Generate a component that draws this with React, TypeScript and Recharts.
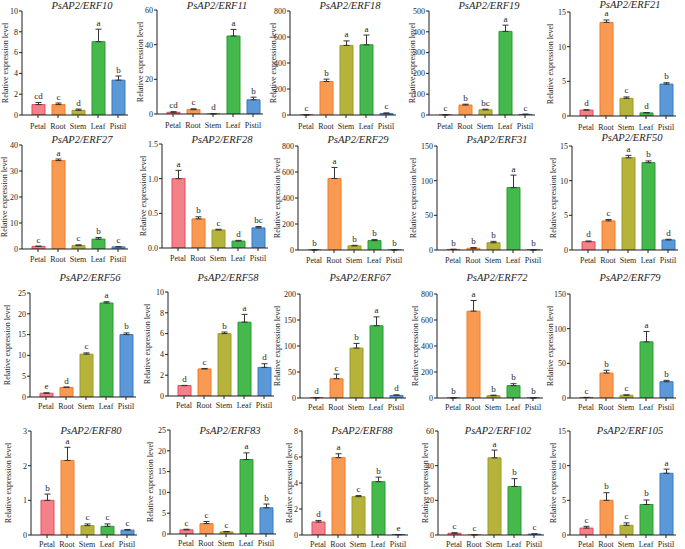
import React from 'react';
import { BarChart, Bar, XAxis, YAxis, ErrorBar, Cell, LabelList, Label } from 'recharts';

const categories = ['Petal', 'Root', 'Stem', 'Leaf', 'Pistil'];

const erf10 = [1.0, 1.0, 0.45, 7.05, 3.35];
const erf10Err = [0.2, 0.15, 0.12, 1.2, 0.4];
const erf10Sig = ['cd', 'c', 'd', 'a', 'b'];
const erf10Ticks = [0, 2, 4, 6, 8, 10];

const erf11 = [1.0, 2.5, 0.1, 45, 8.2];
const erf11Err = [0.3, 0.5, 0, 3.8, 1.5];
const erf11Sig = ['cd', 'c', 'd', 'a', 'b'];
const erf11Ticks = [0, 20, 40, 60];

const erf18 = [1, 258, 535, 540, 12];
const erf18Err = [0, 18, 35, 75, 4];
const erf18Sig = ['c', 'b', 'a', 'a', 'c'];
const erf18Ticks = [0, 200, 400, 600, 800];

const erf19 = [0.5, 48, 25, 402, 3];
const erf19Err = [0, 4, 3, 30, 1];
const erf19Sig = ['c', 'b', 'bc', 'a', 'c'];
const erf19Ticks = [0, 100, 200, 300, 400, 500];

const erf21 = [0.85, 13.5, 2.55, 0.45, 4.6];
const erf21Err = [0.05, 0.35, 0.2, 0.05, 0.2];
const erf21Sig = ['d', 'a', 'c', 'd', 'b'];
const erf21Ticks = [0, 5, 10, 15];

const erf27 = [1.0, 34, 1.3, 3.8, 0.8];
const erf27Err = [0.1, 0.6, 0.3, 0.6, 0.1];
const erf27Sig = ['c', 'a', 'c', 'b', 'c'];
const erf27Ticks = [0, 10, 20, 30, 40];

const erf28 = [1.0, 0.42, 0.26, 0.1, 0.29];
const erf28Err = [0.12, 0.03, 0.01, 0.01, 0.02];
const erf28Sig = ['a', 'b', 'c', 'd', 'bc'];
const erf28Ticks = [0, 0.5, 1.0, 1.5];

const erf29 = [0.5, 550, 32, 72, 1];
const erf29Err = [0, 85, 4, 8, 0];
const erf29Sig = ['b', 'a', 'b', 'b', 'b'];
const erf29Ticks = [0, 200, 400, 600, 800];

const erf31 = [0.8, 2.5, 10.5, 90, 0.2];
const erf31Err = [0.3, 1, 2, 18, 0];
const erf31Sig = ['b', 'b', 'b', 'a', 'b'];
const erf31Ticks = [0, 50, 100, 150];

const erf50 = [1.2, 4.2, 13.3, 12.6, 1.45];
const erf50Err = [0.1, 0.2, 0.35, 0.25, 0.1];
const erf50Sig = ['d', 'c', 'a', 'b', 'd'];
const erf50Ticks = [0, 5, 10, 15];

const erf56 = [0.9, 2.3, 10.3, 22.6, 15];
const erf56Err = [0.1, 0.1, 0.3, 0.3, 0.4];
const erf56Sig = ['e', 'd', 'c', 'a', 'b'];
const erf56Ticks = [0, 5, 10, 15, 20, 25];

const erf58 = [1.0, 2.6, 6.0, 7.1, 2.75];
const erf58Err = [0.02, 0.05, 0.15, 0.75, 0.35];
const erf58Sig = ['d', 'c', 'b', 'a', 'd'];
const erf58Ticks = [0, 2, 4, 6, 8, 10];

const erf67 = [0.5, 37, 96, 139, 5];
const erf67Err = [0, 9, 9, 17, 1];
const erf67Sig = ['d', 'c', 'b', 'a', 'd'];
const erf67Ticks = [0, 50, 100, 150, 200];

const erf72 = [0.5, 668, 18, 95, 0.5];
const erf72Err = [0, 82, 4, 15, 0];
const erf72Sig = ['b', 'a', 'b', 'b', 'b'];
const erf72Ticks = [0, 200, 400, 600, 800];

const erf79 = [0.8, 36, 4, 81, 23.5];
const erf79Err = [0, 4, 0.5, 15, 2];
const erf79Sig = ['c', 'b', 'c', 'a', 'b'];
const erf79Ticks = [0, 50, 100, 150];

const erf80 = [1.0, 2.15, 0.27, 0.25, 0.14];
const erf80Err = [0.18, 0.38, 0.05, 0.07, 0.02];
const erf80Sig = ['b', 'a', 'c', 'c', 'c'];
const erf80Ticks = [0, 1, 2, 3];

const erf83 = [1.0, 2.5, 0.5, 17.9, 6.3];
const erf83Err = [0.15, 0.5, 0.1, 1.6, 0.9];
const erf83Sig = ['c', 'c', 'c', 'a', 'b'];
const erf83Ticks = [0, 5, 10, 15, 20, 25];

const erf88 = [1.0, 5.95, 2.95, 4.1, 0.03];
const erf88Err = [0.12, 0.3, 0.08, 0.35, 0];
const erf88Sig = ['d', 'a', 'c', 'b', 'e'];
const erf88Ticks = [0, 2, 4, 6, 8];

const erf102 = [1.0, 0.1, 44.5, 28, 0.5];
const erf102Err = [0.3, 0, 4.5, 4.5, 0.2];
const erf102Sig = ['c', 'c', 'a', 'b', 'c'];
const erf102Ticks = [0, 20, 40, 60];

const erf105 = [1.0, 5.0, 1.4, 4.4, 8.9];
const erf105Err = [0.25, 1.1, 0.35, 0.65, 0.6];
const erf105Sig = ['c', 'b', 'c', 'b', 'a'];
const erf105Ticks = [0, 5, 10, 15];

const panels = [
  { gene: 'PsAP2/ERF10', values: erf10, errs: erf10Err, sig: erf10Sig, ticks: erf10Ticks },
  { gene: 'PsAP2/ERF11', values: erf11, errs: erf11Err, sig: erf11Sig, ticks: erf11Ticks },
  { gene: 'PsAP2/ERF18', values: erf18, errs: erf18Err, sig: erf18Sig, ticks: erf18Ticks },
  { gene: 'PsAP2/ERF19', values: erf19, errs: erf19Err, sig: erf19Sig, ticks: erf19Ticks },
  { gene: 'PsAP2/ERF21', values: erf21, errs: erf21Err, sig: erf21Sig, ticks: erf21Ticks },
  { gene: 'PsAP2/ERF27', values: erf27, errs: erf27Err, sig: erf27Sig, ticks: erf27Ticks },
  { gene: 'PsAP2/ERF28', values: erf28, errs: erf28Err, sig: erf28Sig, ticks: erf28Ticks },
  { gene: 'PsAP2/ERF29', values: erf29, errs: erf29Err, sig: erf29Sig, ticks: erf29Ticks },
  { gene: 'PsAP2/ERF31', values: erf31, errs: erf31Err, sig: erf31Sig, ticks: erf31Ticks },
  { gene: 'PsAP2/ERF50', values: erf50, errs: erf50Err, sig: erf50Sig, ticks: erf50Ticks },
  { gene: 'PsAP2/ERF56', values: erf56, errs: erf56Err, sig: erf56Sig, ticks: erf56Ticks },
  { gene: 'PsAP2/ERF58', values: erf58, errs: erf58Err, sig: erf58Sig, ticks: erf58Ticks },
  { gene: 'PsAP2/ERF67', values: erf67, errs: erf67Err, sig: erf67Sig, ticks: erf67Ticks },
  { gene: 'PsAP2/ERF72', values: erf72, errs: erf72Err, sig: erf72Sig, ticks: erf72Ticks },
  { gene: 'PsAP2/ERF79', values: erf79, errs: erf79Err, sig: erf79Sig, ticks: erf79Ticks },
  { gene: 'PsAP2/ERF80', values: erf80, errs: erf80Err, sig: erf80Sig, ticks: erf80Ticks },
  { gene: 'PsAP2/ERF83', values: erf83, errs: erf83Err, sig: erf83Sig, ticks: erf83Ticks },
  { gene: 'PsAP2/ERF88', values: erf88, errs: erf88Err, sig: erf88Sig, ticks: erf88Ticks },
  { gene: 'PsAP2/ERF102', values: erf102, errs: erf102Err, sig: erf102Sig, ticks: erf102Ticks },
  { gene: 'PsAP2/ERF105', values: erf105, errs: erf105Err, sig: erf105Sig, ticks: erf105Ticks },
];

// layout (page pixels)
const axisXs = [22, 157, 290, 429, 570, 22, 162, 298, 437, 572, 30, 168, 300, 437, 570, 31, 170, 302, 438, 570];
const plotTops = [10.5, 10, 10.5, 10.7, 12, 144.5, 144, 146, 145.7, 145.7, 293, 292, 294, 294, 294, 431, 430, 431, 431, 431];
const labelOffs = [17, 17, 17, 17, 20, 17.5, 19, 21, 24, 19, 23, 21, 23, 22, 20, 23, 20, 13, 13, 17];
const titleYs = [5.5, 5, 5.5, 5.5, 4.5, 139.5, 139, 139, 139, 137.5, 277, 277, 277, 277, 277, 430, 430, 430, 430, 430];
const rowTickMargins = [5, 4, 3.5, 3];

const fills = ['#F4808A', '#F99A52', '#B6B33C', '#45B94C', '#5B98D8'];
const strokes = ['#E8485A', '#F27A2A', '#9E9C22', '#2A9B33', '#3A78C2'];

const FONT = '"Liberation Serif", "Times New Roman", serif';
const TXT = '#1e1e1e';
const ML = 8;
const AX = 26;
const MT = 10;
const PH = 104;
const PW = 106;
const PADL = 6;

function Panel({ p, i }: { p: any; i: number }) {
  const axisX = axisXs[i];
  const top = plotTops[i];
  const W = ML + AX + PW + 5;
  const H = MT + PH + 20;
  const max = p.ticks[p.ticks.length - 1];
  const dec = p.ticks.some((t: number) => !Number.isInteger(t)) ? 1 : 0;
  const data = categories.map((c, k) => ({ name: c, value: p.values[k], err: [0, p.errs[k]], sig: p.sig[k] }));
  const band = (PW - PADL) / categories.length;
  const letter = (props: any) => {
    const cx = Number(props.x) + Number(props.width) / 2;
    const idx = Math.round((cx - (ML + AX + PADL + band / 2)) / band);
    const v = p.values[idx] + p.errs[idx];
    const y = MT + PH - (v * PH) / max - 3.5;
    return (
      <text x={cx} y={y} textAnchor="middle" fontSize={9} fontFamily={FONT} fill={TXT}>
        {p.sig[idx]}
      </text>
    );
  };
  const ylabel = () => {
    const x = ML + AX - labelOffs[i];
    const y = MT + PH / 2;
    return (
      <text x={x} y={y} transform={`rotate(-90 ${x} ${y})`} textAnchor="middle" dominantBaseline="central" fontSize={8} fontFamily={FONT} fill={TXT}>
        Relative expression level
      </text>
    );
  };
  return (
    <div style={{ position: 'absolute', left: axisX - AX - ML, top: top - MT, width: W, height: H }}>
      <BarChart width={W} height={H} data={data} margin={{ top: MT, right: 5, bottom: 0, left: ML }}>
        <XAxis
          dataKey="name"
          height={20}
          interval={0}
          padding={{ left: PADL, right: 0 }}
          tickSize={3}
          tickMargin={rowTickMargins[Math.floor(i / 5)]}
          axisLine={{ stroke: TXT, strokeWidth: 1 }}
          tickLine={{ stroke: TXT, strokeWidth: 1 }}
          tick={{ fontSize: 8, fill: TXT, fontFamily: FONT }}
        />
        <YAxis
          width={AX}
          domain={[0, max]}
          ticks={p.ticks}
          interval={0}
          allowDataOverflow
          tickSize={3}
          tickMargin={1}
          tickFormatter={(t: number) => t.toFixed(dec)}
          axisLine={{ stroke: TXT, strokeWidth: 1 }}
          tickLine={{ stroke: TXT, strokeWidth: 1 }}
          tick={{ fontSize: 8, fill: TXT, fontFamily: FONT }}
        >
          <Label content={ylabel} />
        </YAxis>
        <Bar dataKey="value" barSize={13} isAnimationActive={false} strokeWidth={1}>
          {data.map((d, k) => (
            <Cell key={k} fill={fills[k]} stroke={strokes[k]} />
          ))}
          <ErrorBar dataKey="err" width={3} stroke="#333" strokeWidth={1} direction="y" isAnimationActive={false} />
          <LabelList dataKey="sig" content={letter} />
        </Bar>
      </BarChart>
    </div>
  );
}

export default function App() {
  return (
    <div style={{ position: 'absolute', left: 0, top: 0, width: 685, height: 549, background: '#fff', overflow: 'hidden' }}>
      {panels.map((p, i) => (
        <Panel key={p.gene} p={p} i={i} />
      ))}
      {panels.map((p, i) => (
        <div
          key={p.gene + '-t'}
          style={{
            position: 'absolute',
            left: axisXs[i] + 60 - 70,
            width: 140,
            top: titleYs[i] - 4.5,
            height: 9,
            lineHeight: '9px',
            textAlign: 'center',
            fontFamily: FONT,
            fontStyle: 'italic',
            fontSize: 10.5,
            color: TXT,
            whiteSpace: 'nowrap',
          }}
        >
          {p.gene}
        </div>
      ))}
    </div>
  );
}
